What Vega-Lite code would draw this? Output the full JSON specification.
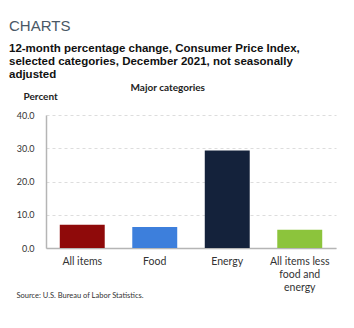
{
  "$schema": "https://vega.github.io/schema/vega-lite/v6.json",
  "autosize": "none",
  "width": 290,
  "height": 133,
  "padding": {"top": 115, "left": 46, "right": 18, "bottom": 80},
  "background": "white",
  "title": {
    "text": "CHARTS",
    "subtitle": ["12-month percentage change, Consumer Price Index,", "selected categories, December 2021, not seasonally", "adjusted"],
    "anchor": "start",
    "frame": "group",
    "dx": -37,
    "offset": 2,
    "font": "Liberation Sans",
    "fontSize": 15,
    "fontWeight": "normal",
    "color": "#4a5866",
    "subtitleFont": "Liberation Sans",
    "subtitleFontSize": 11.5,
    "subtitleFontWeight": "bold",
    "subtitleColor": "#111111",
    "subtitleLineHeight": 13,
    "subtitlePadding": 9
  },
  "data": {
    "values": [
      {"category": "All items", "value": 7.0},
      {"category": "Food", "value": 6.3},
      {"category": "Energy", "value": 29.3},
      {"category": "All items less food and energy", "value": 5.5}
    ]
  },
  "layer": [
    {
      "mark": {"type": "bar"},
      "encoding": {
        "x": {
          "field": "category",
          "type": "nominal",
          "sort": null,
          "scale": {"paddingInner": 0.38, "paddingOuter": 0.19},
          "axis": {
            "orient": "bottom",
            "title": "Source: U.S. Bureau of Labor Statistics.",
            "titleX": -30,
            "titleY": 47,
            "titleAlign": "left",
            "titleBaseline": "middle",
            "titleFont": "Lato",
            "titleFontSize": 7.5,
            "titleFontWeight": "normal",
            "titleColor": "#333333",
            "labelAngle": 0,
            "labelFont": "Lato",
            "labelFontSize": 10.5,
            "labelColor": "#333333",
            "labelPadding": 8,
            "labelLineHeight": 13,
            "labelExpr": "datum.value == 'All items less food and energy' ? ['All items less', 'food and', 'energy'] : datum.value",
            "ticks": false,
            "domainColor": "#b5b5b5",
            "domainWidth": 1.5
          }
        },
        "y": {
          "field": "value",
          "type": "quantitative",
          "scale": {"domain": [0, 40], "nice": false},
          "axis": {
            "values": [0, 10, 20, 30, 40],
            "format": ".1f",
            "labelOverlap": false,
            "title": "Percent",
            "titleAngle": 0,
            "titleX": -23,
            "titleY": -19,
            "titleAlign": "left",
            "titleBaseline": "middle",
            "titleFont": "Lato",
            "titleFontSize": 10,
            "titleFontWeight": "bold",
            "titleColor": "#222222",
            "labelFont": "Lato",
            "labelFontSize": 9,
            "labelColor": "#333333",
            "labelPadding": 12,
            "ticks": false,
            "domainColor": "#b5b5b5",
            "domainWidth": 1.5,
            "grid": true,
            "gridColor": "#dddddd",
            "gridDash": [3, 3]
          }
        },
        "color": {
          "field": "category",
          "type": "nominal",
          "scale": {
            "domain": ["All items", "Food", "Energy", "All items less food and energy"],
            "range": ["#8f0a0a", "#3d7fdc", "#14223b", "#8cc43c"]
          },
          "legend": null
        }
      }
    },
    {
      "mark": {"type": "bar", "opacity": 0},
      "encoding": {
        "x": {
          "field": "category",
          "type": "nominal",
          "sort": null,
          "axis": {
            "orient": "top",
            "title": "Major categories",
            "titleX": 84,
            "titleY": -28,
            "titleAlign": "left",
            "titleBaseline": "middle",
            "titleFont": "Lato",
            "titleFontSize": 10,
            "titleFontWeight": "bold",
            "titleColor": "#222222",
            "labels": false,
            "ticks": false,
            "domain": false,
            "grid": false
          }
        }
      }
    }
  ],
  "resolve": {"axis": {"x": "independent"}},
  "config": {"view": {"stroke": null}}
}
